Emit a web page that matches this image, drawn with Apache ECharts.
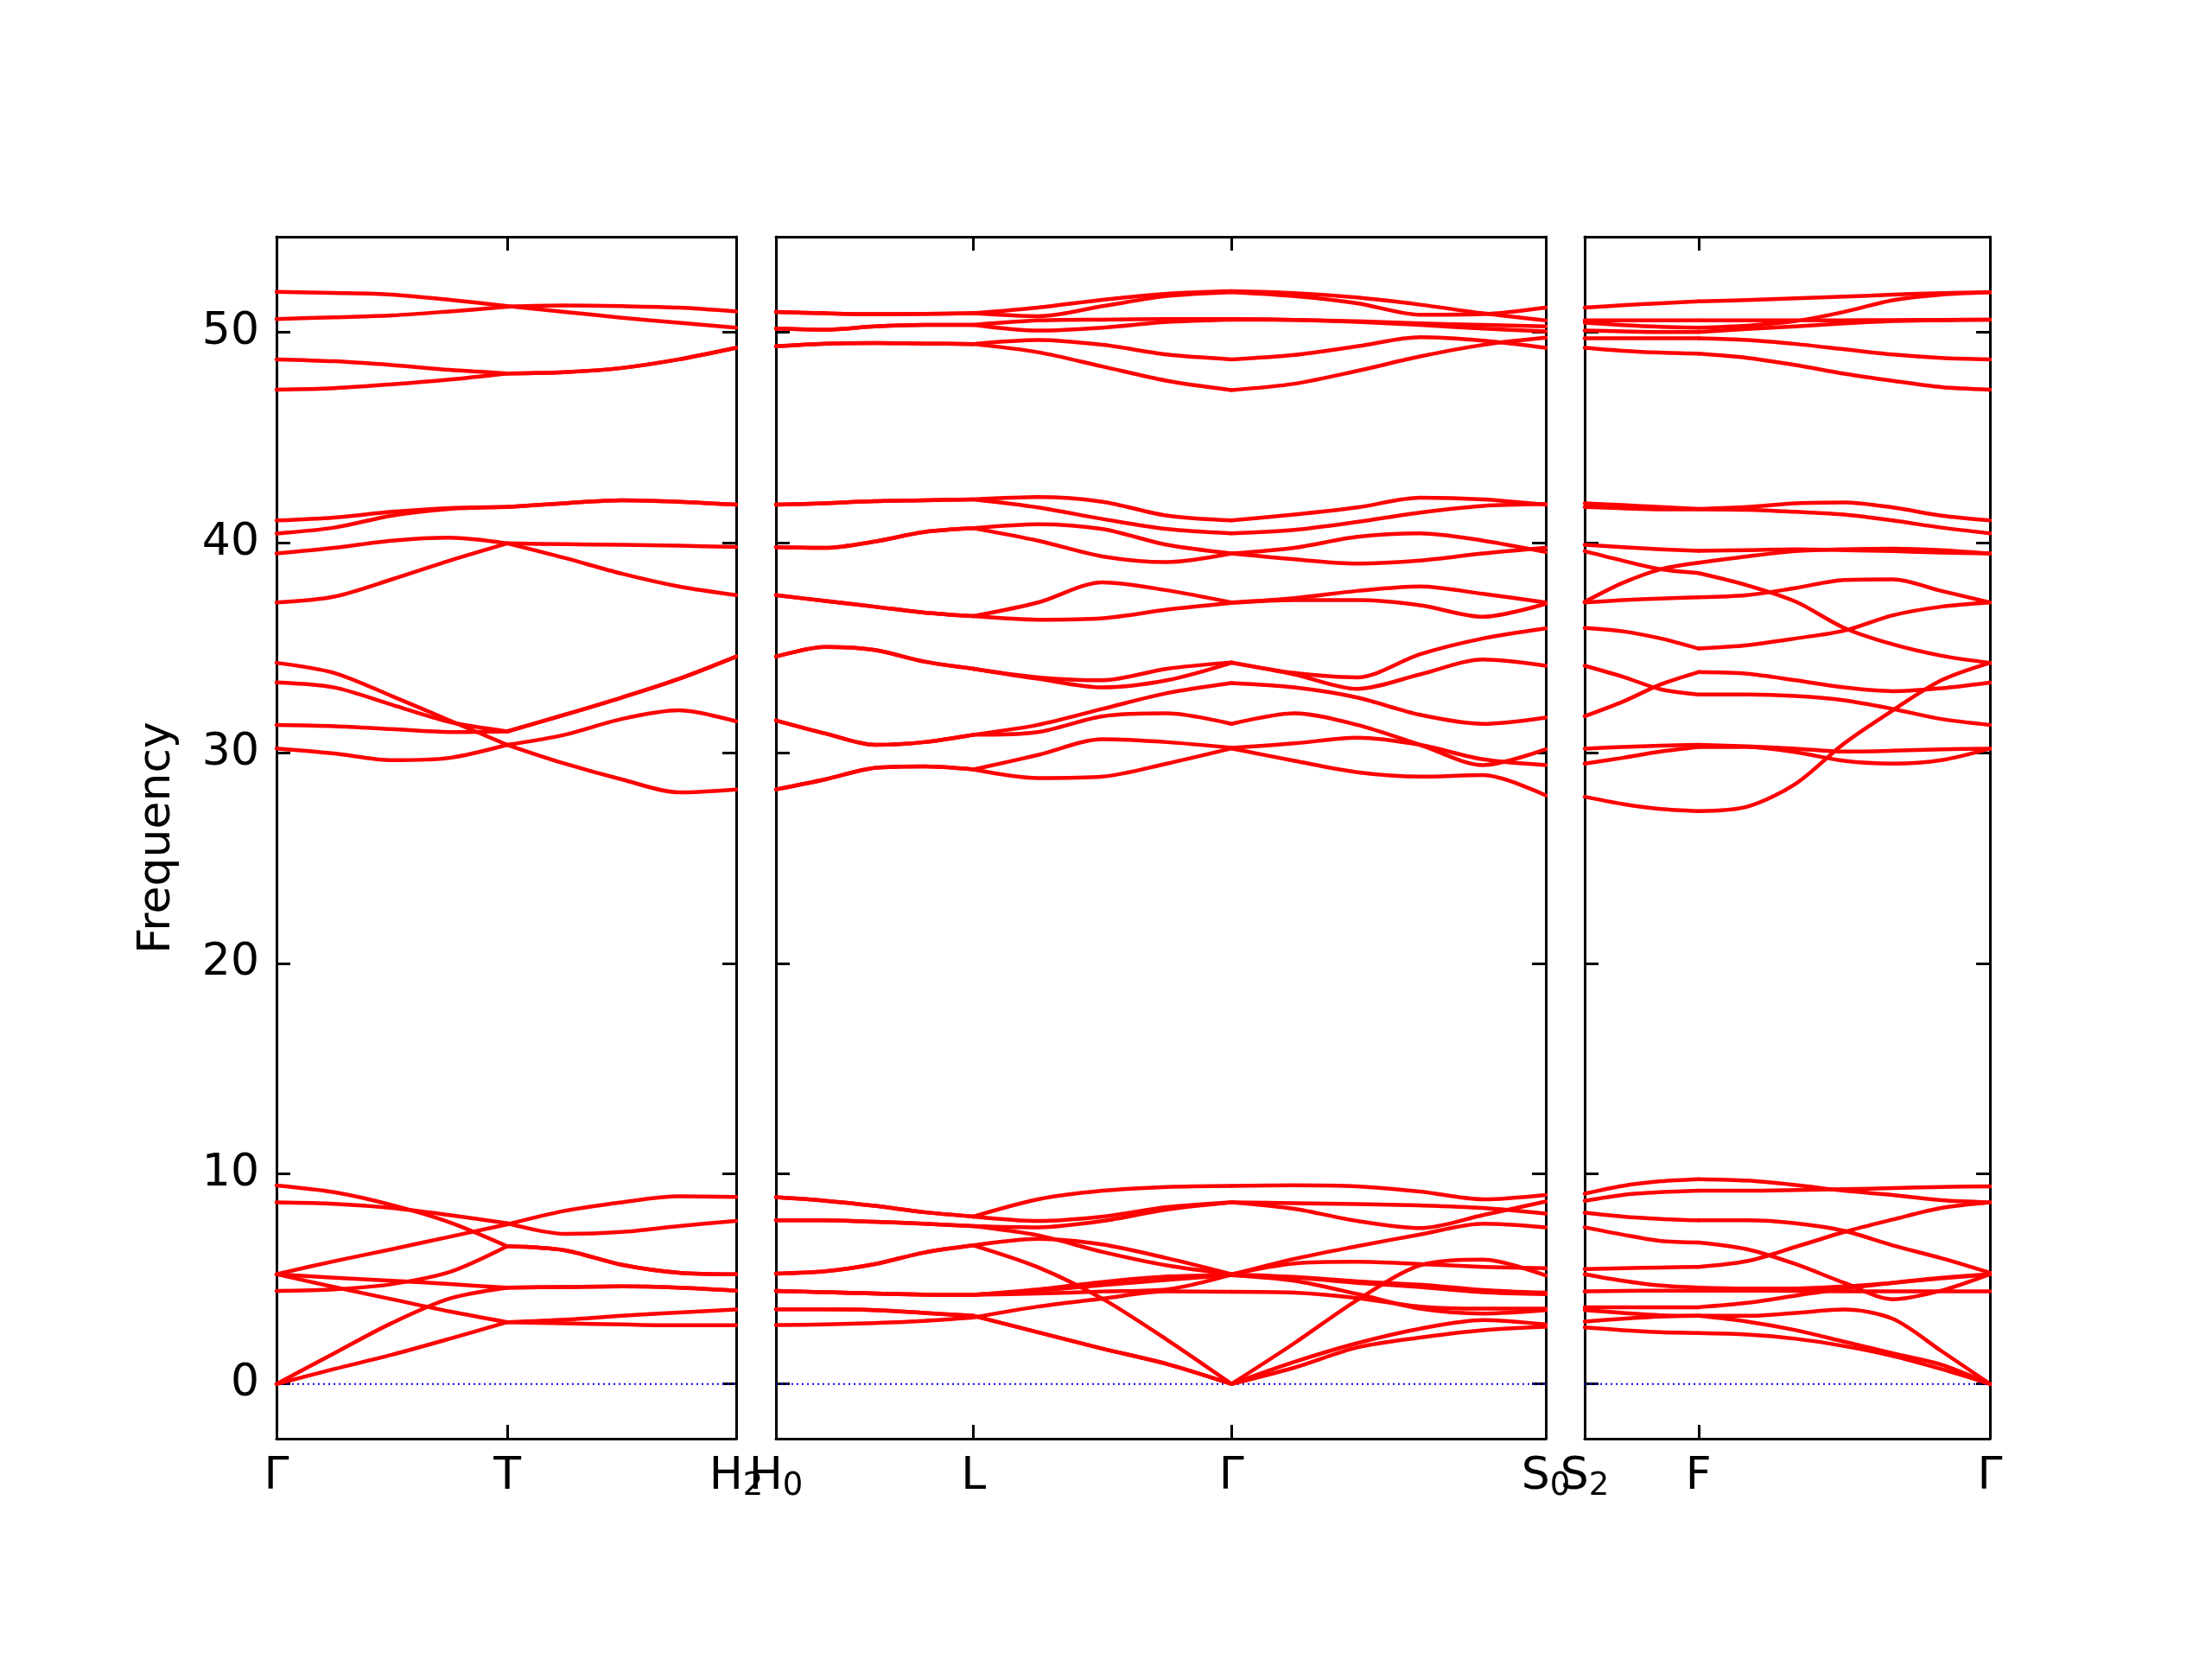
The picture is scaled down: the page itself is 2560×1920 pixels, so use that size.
<!DOCTYPE html>
<html><head><meta charset="utf-8">
<script src="https://cdn.jsdelivr.net/npm/echarts@6/dist/echarts.min.js"></script>
<style>html,body{margin:0;padding:0;background:#fff}#c{width:2560px;height:1920px}</style>
</head><body><div id="c"></div>
<script>
// ---------- tick labels / high-symmetry points ----------
const yTicks = [0, 10, 20, 30, 40, 50];
const p1Ticks = [0, 0.502, 1];
const p1Labels = ['Γ', 'T', 'H_2'];
const p2Ticks = [0, 0.2566, 0.5918, 1];
const p2Labels = ['H_0', 'L', 'Γ', 'S_0'];
const p3Ticks = [0, 0.281, 1];
const p3Labels = ['S_2', 'F', 'Γ'];

// ---------- k-path sample positions ----------
const p1X = [0, 0.1255, 0.251, 0.3765, 0.502, 0.6265, 0.751, 0.8755, 1];
const p2X = [0, 0.0642, 0.1283, 0.1925, 0.2566, 0.3404, 0.4242, 0.508, 0.5918, 0.6734, 0.755, 0.8367, 0.9184, 1];
const p3X = [0, 0.0937, 0.1873, 0.281, 0.4008, 0.5206, 0.6404, 0.7602, 0.8801, 1];
const zeroLineX = [0, 1];
const zeroLineY = [0, 0];

// ---------- panel 1 : Γ - T - H2 ----------
const p1_A = [51.93, 51.88, 51.80, 51.55, 51.25, 50.98, 50.70, 50.46, 50.23];
const p1_B = [50.64, 50.72, 50.81, 51.00, 51.22, 51.28, 51.25, 51.18, 51.00];
const p1_C = [48.72, 48.63, 48.45, 48.22, 48.05, 48.11, 48.31, 48.72, 49.27];
const p1_D = [47.28, 47.35, 47.53, 47.76, 48.05, 48.11, 48.31, 48.72, 49.27];
const p1_E = [41.06, 41.20, 41.47, 41.65, 41.70, 41.88, 42.02, 41.95, 41.81];
const p1_F = [40.44, 40.72, 41.29, 41.61, 41.70, 41.88, 42.02, 41.95, 41.81];
const p1_G = [39.49, 39.76, 40.10, 40.24, 39.97, 39.93, 39.90, 39.86, 39.80];
const p1_H = [37.16, 37.44, 38.26, 39.15, 39.97, 39.28, 38.53, 37.92, 37.51];
const p1_I = [34.29, 33.81, 32.71, 31.55, 30.39, 29.50, 28.75, 28.13, 28.27];
const p1_J = [33.36, 33.12, 32.30, 31.48, 31.03, 31.82, 32.64, 33.53, 34.59];
const p1_K = [31.34, 31.28, 31.14, 31.00, 31.03, 31.82, 32.64, 33.53, 34.59];
const p1_L = [30.22, 29.98, 29.66, 29.77, 30.39, 30.87, 31.62, 32.03, 31.51];
const p1_a = [9.44, 9.12, 8.51, 7.69, 6.55, 6.36, 5.67, 5.29, 5.22];
const p1_b = [8.64, 8.57, 8.37, 8.03, 7.64, 7.14, 7.23, 7.51, 7.75];
const p1_c = [5.22, 5.84, 6.41, 7.00, 7.59, 8.23, 8.64, 8.92, 8.89];
const p1_d = [4.43, 4.50, 4.75, 5.32, 6.55, 6.36, 5.67, 5.29, 5.22];
const p1_e = [5.22, 5.05, 4.91, 4.75, 4.58, 4.61, 4.64, 4.58, 4.44];
const p1_f = [5.22, 4.61, 4.03, 3.45, 2.94, 3.06, 3.24, 3.40, 3.54];
const p1_g = [0, 1.46, 2.90, 4.06, 4.58, 4.61, 4.64, 4.58, 4.44];
const p1_h = [0, 0.71, 1.39, 2.15, 2.94, 2.88, 2.83, 2.79, 2.79];

// ---------- panel 2 : H0 - L - Γ - S0 ----------
const p2_T1 = [50.98, 50.91, 50.87, 50.88, 50.91, 51.18, 51.55, 51.84, 51.96, 51.87, 51.66, 51.32, 50.91, 50.57];
const p2_T2 = [50.98, 50.91, 50.87, 50.88, 50.91, 50.77, 51.25, 51.73, 51.91, 51.73, 51.39, 50.84, 50.87, 51.18];
const p2_T3 = [50.18, 50.13, 50.29, 50.36, 50.36, 50.09, 50.23, 50.50, 50.61, 50.60, 50.53, 50.43, 50.36, 50.29];
const p2_T4 = [50.18, 50.13, 50.29, 50.36, 50.36, 50.57, 50.61, 50.64, 50.64, 50.60, 50.50, 50.36, 50.18, 50.05];
const p2_T5 = [49.34, 49.47, 49.50, 49.47, 49.45, 49.64, 49.41, 48.95, 48.72, 48.93, 49.34, 49.77, 49.61, 49.27];
const p2_T6 = [49.34, 49.47, 49.50, 49.47, 49.45, 49.06, 48.38, 47.70, 47.26, 47.56, 48.17, 48.86, 49.41, 49.75];
const p2_M1a = [41.81, 41.88, 41.98, 42.02, 42.06, 42.17, 41.95, 41.29, 41.06, 41.34, 41.68, 42.14, 42.06, 41.81];
const p2_M1b = [41.81, 41.88, 41.98, 42.02, 42.06, 41.68, 41.13, 40.65, 40.45, 40.61, 40.99, 41.43, 41.75, 41.84];
const p2_M2a = [39.79, 39.76, 40.06, 40.51, 40.69, 40.88, 40.65, 39.90, 39.49, 39.76, 40.28, 40.45, 40.10, 39.56];
const p2_M2b = [39.79, 39.76, 40.06, 40.51, 40.69, 40.10, 39.35, 39.08, 39.49, 39.21, 39.01, 39.15, 39.49, 39.76];
const p2_M3a = [37.51, 37.23, 36.96, 36.68, 36.51, 37.16, 38.12, 37.74, 37.16, 37.37, 37.71, 37.92, 37.57, 37.16];
const p2_M3b = [37.51, 37.23, 36.96, 36.68, 36.51, 36.34, 36.41, 36.82, 37.14, 37.27, 37.27, 37.03, 36.48, 37.10];
const p2_N1a = [34.59, 35.04, 34.90, 34.35, 34.01, 33.60, 33.46, 34.01, 34.31, 33.81, 33.60, 34.70, 35.45, 35.93];
const p2_N1b = [34.59, 35.04, 34.90, 34.35, 34.01, 33.53, 33.12, 33.46, 34.29, 33.74, 33.05, 33.74, 34.45, 34.15];
const p2_N2a = [31.55, 30.93, 30.39, 30.52, 30.87, 31.34, 32.10, 32.85, 33.33, 33.12, 32.64, 31.82, 31.39, 31.69];
const p2_N2b = [31.55, 30.93, 30.39, 30.52, 30.87, 31.00, 31.75, 31.89, 31.39, 31.89, 31.34, 30.39, 29.43, 30.18];
const p2_N3a = [28.27, 28.75, 29.29, 29.36, 29.22, 29.91, 30.66, 30.52, 30.25, 30.46, 30.73, 30.39, 29.70, 29.43];
const p2_N3b = [28.27, 28.75, 29.29, 29.36, 29.22, 28.81, 28.88, 29.50, 30.22, 29.63, 29.09, 28.88, 28.95, 27.99];
const p2_Q1 = [8.88, 8.71, 8.47, 8.17, 7.96, 8.78, 9.19, 9.37, 9.42, 9.45, 9.40, 9.15, 8.78, 8.99];
const p2_Q2 = [8.88, 8.71, 8.47, 8.17, 7.96, 7.75, 7.96, 8.41, 8.64, 8.60, 8.55, 8.49, 8.37, 8.10];
const p2_Q3 = [7.78, 7.78, 7.71, 7.62, 7.51, 7.45, 7.75, 8.30, 8.64, 8.33, 7.75, 7.41, 8.03, 8.68];
const p2_Q4 = [7.78, 7.78, 7.71, 7.62, 7.51, 7.07, 6.28, 5.64, 5.22, 5.73, 5.81, 5.70, 5.57, 5.50];
const p2_Q5 = [5.25, 5.36, 5.70, 6.25, 6.59, 6.90, 6.63, 5.98, 5.22, 5.09, 4.88, 4.72, 4.47, 4.34];
const p2_Q6 = [5.25, 5.36, 5.70, 6.25, 6.59, 5.55, 4.05, 2.10, 0, 1.94, 3.99, 5.64, 5.91, 5.16];
const p2_Q7 = [4.43, 4.36, 4.30, 4.25, 4.24, 4.50, 4.85, 5.11, 5.18, 5.06, 4.81, 4.61, 4.36, 4.27];
const p2_Q8 = [4.43, 4.36, 4.30, 4.25, 4.24, 4.30, 4.40, 4.50, 5.20, 5.95, 6.55, 7.11, 7.62, 7.45];
const p2_Q9 = [2.80, 2.83, 2.90, 3.00, 3.16, 3.68, 4.06, 4.40, 4.38, 4.34, 4.09, 3.68, 3.58, 3.58];
const p2_Q10 = [4.43, 4.36, 4.30, 4.25, 4.24, 4.44, 4.70, 4.95, 5.18, 4.91, 4.28, 3.58, 3.35, 3.51];
const p2_Q11 = [3.55, 3.55, 3.51, 3.38, 3.24, 2.46, 1.68, 0.95, 0, 1.05, 1.94, 2.63, 3.04, 2.83];
const p2_Q12 = [3.55, 3.55, 3.51, 3.38, 3.24, 2.46, 1.68, 0.95, 0, 0.78, 1.74, 2.21, 2.56, 2.72];

// ---------- panel 3 : S2 - F - Γ ----------
const p3_U1 = [51.18, 51.29, 51.39, 51.48, 51.54, 51.62, 51.70, 51.80, 51.87, 51.91];
const p3_U2 = [50.57, 50.57, 50.57, 50.57, 50.57, 50.57, 50.58, 50.59, 50.60, 50.61];
const p3_U3 = [50.09, 50.05, 50.02, 50.02, 50.16, 50.29, 50.43, 50.54, 50.58, 50.61];
const p3_U4 = [49.72, 49.72, 49.72, 49.72, 49.64, 49.45, 49.20, 48.95, 48.79, 48.72];
const p3_U5 = [49.27, 49.13, 49.04, 48.99, 48.79, 48.45, 48.04, 47.70, 47.40, 47.28];
const p3_U6 = [50.46, 50.35, 50.27, 50.23, 50.32, 50.54, 50.98, 51.53, 51.80, 51.91];
const p3_V1 = [41.88, 41.79, 41.70, 41.61, 41.70, 41.88, 41.92, 41.68, 41.29, 41.06];
const p3_V2 = [41.70, 41.64, 41.59, 41.59, 41.57, 41.47, 41.34, 41.06, 40.72, 40.45];
const p3_V3 = [39.90, 39.79, 39.69, 39.62, 39.65, 39.69, 39.65, 39.60, 39.53, 39.49];
const p3_V4 = [39.60, 39.15, 38.74, 38.56, 37.98, 37.20, 35.95, 35.17, 34.63, 34.29];
const p3_V5 = [37.19, 38.09, 38.74, 39.05, 39.35, 39.60, 39.69, 39.72, 39.65, 39.49];
const p3_V6 = [37.16, 37.27, 37.35, 37.41, 37.51, 37.85, 38.23, 38.26, 37.71, 37.16];
const p3_W1 = [35.95, 35.79, 35.45, 34.97, 35.13, 35.45, 35.82, 36.55, 36.96, 37.16];
const p3_W2 = [34.15, 33.63, 33.03, 32.78, 32.78, 32.71, 32.51, 32.10, 31.62, 31.34];
const p3_W3 = [31.75, 32.44, 33.26, 33.85, 33.77, 33.46, 33.12, 32.94, 33.08, 33.35];
const p3_W4 = [30.21, 30.29, 30.35, 30.39, 30.32, 30.21, 30.07, 30.11, 30.18, 30.21];
const p3_W5 = [29.50, 29.77, 30.07, 30.29, 30.29, 30.04, 29.63, 29.50, 29.66, 30.21];
const p3_W6 = [27.92, 27.58, 27.34, 27.24, 27.45, 28.54, 30.46, 32.03, 33.46, 34.29];
const p3_X1 = [9.05, 9.42, 9.64, 9.74, 9.67, 9.46, 9.19, 8.99, 8.74, 8.64];
const p3_X2 = [8.71, 8.99, 9.12, 9.19, 9.19, 9.22, 9.26, 9.31, 9.37, 9.40];
const p3_X3 = [8.14, 7.96, 7.85, 7.78, 7.78, 7.64, 7.28, 6.59, 5.98, 5.29];
const p3_X4 = [7.45, 7.10, 6.80, 6.73, 6.41, 5.70, 4.81, 4.03, 4.44, 5.22];
const p3_X5 = [5.46, 5.50, 5.54, 5.57, 5.84, 6.52, 7.23, 7.82, 8.37, 8.64];
const p3_X6 = [5.22, 4.91, 4.68, 4.58, 4.54, 4.54, 4.64, 4.81, 5.02, 5.22];
const p3_X7 = [4.40, 4.43, 4.44, 4.44, 4.44, 4.43, 4.41, 4.40, 4.40, 4.40];
const p3_X9 = [3.65, 3.65, 3.65, 3.65, 3.86, 4.20, 4.54, 4.81, 5.05, 5.22];
const p3_X10 = [3.51, 3.38, 3.27, 3.24, 3.24, 3.38, 3.54, 3.10, 1.57, 0];
const p3_X11 = [2.97, 3.10, 3.20, 3.24, 2.97, 2.56, 2.01, 1.46, 0.92, 0];
const p3_X12 = [2.69, 2.56, 2.46, 2.42, 2.35, 2.15, 1.80, 1.33, 0.71, 0];

const panel1Bands = [p1_A, p1_B, p1_C, p1_D, p1_E, p1_F, p1_G, p1_H, p1_I, p1_J, p1_K, p1_L,
  p1_a, p1_b, p1_c, p1_d, p1_e, p1_f, p1_g, p1_h];
const panel2Bands = [p2_T1, p2_T2, p2_T3, p2_T4, p2_T5, p2_T6, p2_M1a, p2_M1b, p2_M2a, p2_M2b, p2_M3a, p2_M3b,
  p2_N1a, p2_N1b, p2_N2a, p2_N2b, p2_N3a, p2_N3b,
  p2_Q1, p2_Q2, p2_Q3, p2_Q4, p2_Q5, p2_Q6, p2_Q7, p2_Q8, p2_Q9, p2_Q10, p2_Q11, p2_Q12];
const panel3Bands = [p3_U1, p3_U2, p3_U3, p3_U4, p3_U5, p3_U6, p3_V1, p3_V2, p3_V3, p3_V4, p3_V5, p3_V6,
  p3_W1, p3_W2, p3_W3, p3_W4, p3_W5, p3_W6,
  p3_X1, p3_X2, p3_X3, p3_X4, p3_X5, p3_X6, p3_X7, p3_X9, p3_X10, p3_X11, p3_X12];

// ---------- chart building ----------
const FONT = 'DejaVu Sans';
const FS = 52;
const panels = [
  { x: p1X, bands: panel1Bands, ticks: p1Ticks, labels: p1Labels, left: 320, width: 532 },
  { x: p2X, bands: panel2Bands, ticks: p2Ticks, labels: p2Labels, left: 898, width: 891 },
  { x: p3X, bands: panel3Bands, ticks: p3Ticks, labels: p3Labels, left: 1834, width: 469 }
];
const TOP = 274, HEIGHT = 1391;
const YMIN = -2.6, YMAX = 54.55;

function fmtLabel(s) {
  const i = s.indexOf('_');
  if (i < 0) return '{m|' + s + '}';
  return '{m|' + s.slice(0, i) + '}{s|' + s.slice(i + 1) + '}';
}
const rich = {
  m: { fontSize: FS, fontFamily: FONT, color: '#000', lineHeight: 60 },
  s: { fontSize: 37, fontFamily: FONT, color: '#000', lineHeight: 30, verticalAlign: 'bottom' }
};
const axisLineStyle = { color: '#000', width: 3 };
const tickStyle = { color: '#000', width: 3 };

const grid = [], xAxis = [], yAxis = [], series = [];
panels.forEach((p, g) => {
  grid.push({ left: p.left, top: TOP, width: p.width, height: HEIGHT, containLabel: false });
  xAxis.push({
    gridIndex: g, type: 'value', min: 0, max: 1, position: 'bottom',
    axisLine: { show: true, onZero: false, lineStyle: axisLineStyle },
    axisTick: { show: true, inside: true, length: 16, lineStyle: tickStyle, customValues: p.ticks },
    axisLabel: {
      show: true, customValues: p.ticks, margin: 14, rich: rich,
      formatter: (v) => {
        const i = p.ticks.findIndex(t => Math.abs(t - v) < 1e-6);
        return i < 0 ? '' : fmtLabel(p.labels[i]);
      }
    },
    splitLine: { show: false }
  });
  xAxis.push({
    gridIndex: g, type: 'value', min: 0, max: 1, position: 'top',
    axisLine: { show: true, onZero: false, lineStyle: axisLineStyle },
    axisTick: { show: true, inside: true, length: 16, lineStyle: tickStyle, customValues: p.ticks },
    axisLabel: { show: false },
    splitLine: { show: false }
  });
  yAxis.push({
    gridIndex: g, type: 'value', min: YMIN, max: YMAX, position: 'left',
    axisLine: { show: true, onZero: false, lineStyle: axisLineStyle },
    axisTick: { show: true, inside: true, length: 16, lineStyle: tickStyle, customValues: yTicks },
    axisLabel: { show: g === 0, customValues: yTicks, margin: 20, fontSize: FS, fontFamily: FONT, color: '#000' },
    splitLine: { show: false },
    name: g === 0 ? 'Frequency' : '',
    nameLocation: 'middle', nameGap: 112,
    nameTextStyle: { fontSize: FS, fontFamily: FONT, color: '#000' }
  });
  yAxis.push({
    gridIndex: g, type: 'value', min: YMIN, max: YMAX, position: 'right',
    axisLine: { show: true, onZero: false, lineStyle: axisLineStyle },
    axisTick: { show: true, inside: true, length: 16, lineStyle: tickStyle, customValues: yTicks },
    axisLabel: { show: false },
    splitLine: { show: false }
  });
  series.push({
    type: 'line', xAxisIndex: 2 * g, yAxisIndex: 2 * g, silent: true, symbol: 'none',
    data: zeroLineX.map((x, i) => [x, zeroLineY[i]]),
    lineStyle: { color: '#0000ff', width: 2, type: [2, 4] }, z: 1
  });
  // split each band at the high-symmetry points so kinks stay sharp
  const breaks = p.x.map((x, i) => i).filter(i => p.ticks.some(t => Math.abs(t - p.x[i]) < 1e-6));
  p.bands.forEach(b => {
    for (let s = 0; s < breaks.length - 1; s++) {
      const data = [];
      for (let i = breaks[s]; i <= breaks[s + 1]; i++) data.push([p.x[i], b[i]]);
      series.push({
        type: 'line', xAxisIndex: 2 * g, yAxisIndex: 2 * g, silent: true, symbol: 'none',
        smooth: 0.3, data: data,
        lineStyle: { color: '#ff0000', width: 4.5, cap: 'round', join: 'round' }, z: 2
      });
    }
  });
});

const chart = echarts.init(document.getElementById('c'), null, { renderer: 'canvas', width: 2560, height: 1920 });
chart.setOption({
  backgroundColor: '#ffffff',
  animation: false,
  grid, xAxis, yAxis, series
});
</script></body></html>
